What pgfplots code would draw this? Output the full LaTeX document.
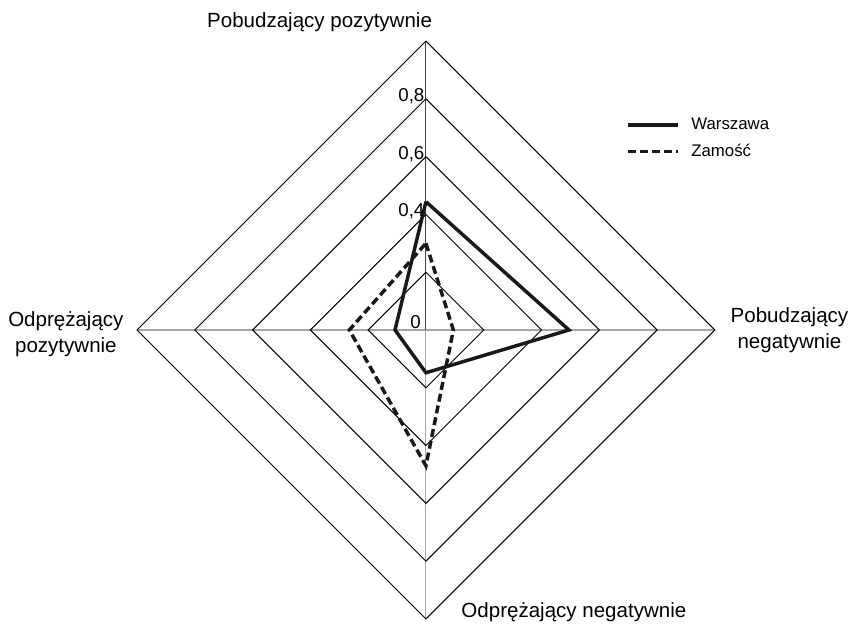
\documentclass[border=0pt]{standalone}
\usepackage{pgfplots}
\pgfplotsset{compat=1.18}
\usepackage{fontspec}
\setmainfont{Liberation Sans}
\begin{document}
\begin{tikzpicture}
\begin{axis}[
  x=216.75pt, y=216.75pt,
  xmin=-1, xmax=1, ymin=-1, ymax=1,
  axis lines=none, clip=false,
  legend style={draw=none, fill=none, inner sep=0pt, outer sep=0pt,
    at={(axis cs:0.692,0.663)}, anchor=west,
    font=\fontsize{12.6}{15}\selectfont, row sep=5.5pt,
    nodes={inner xsep=8.5pt, inner ysep=2pt}},
  legend cell align=left,
  legend image code/.code={\draw[#1] (0pt,0pt) -- (38pt,0pt);},
]
% spokes
\addplot[gray!70, line width=0.8pt, forget plot] coordinates {(0,0) (0,-1)};
\addplot[gray!70, line width=0.8pt, forget plot] coordinates {(0,0) (1,0)};
\addplot[gray!70, line width=0.8pt, forget plot] coordinates {(0,0) (-1,0)};
\addplot[black!75, line width=0.8pt, forget plot] coordinates {(0,0) (0,1)};
% grid diamonds
\addplot[black, line width=0.75pt, forget plot] coordinates {(0,0.2) (0.2,0) (0,-0.2) (-0.2,0) (0,0.2)};
\addplot[black, line width=0.75pt, forget plot] coordinates {(0,0.4) (0.4,0) (0,-0.4) (-0.4,0) (0,0.4)};
\addplot[black, line width=0.75pt, forget plot] coordinates {(0,0.6) (0.6,0) (0,-0.6) (-0.6,0) (0,0.6)};
\addplot[black, line width=0.75pt, forget plot] coordinates {(0,0.8) (0.8,0) (0,-0.8) (-0.8,0) (0,0.8)};
\addplot[black, line width=0.75pt, forget plot] coordinates {(0,1) (1,0) (0,-1) (-1,0) (0,1)};
% data
\addplot[black!90, line width=2.6pt, line join=miter] coordinates {(0,0.444) (0.495,0) (0,-0.148) (-0.107,0) (0,0.444)};
\addlegendentry{Warszawa}
\addplot[black!90, line width=2.6pt, dash pattern=on 6pt off 3pt, line join=miter] coordinates {(0,0.30) (0.095,0) (0,-0.47) (-0.265,0) (0,0.30)};
\addlegendentry{Zamość}
% tick labels
\node[anchor=east, font=\fontsize{14}{16}\selectfont, inner sep=1pt] at (axis cs:0,0.81) {0,8};
\node[anchor=east, font=\fontsize{14}{16}\selectfont, inner sep=1pt] at (axis cs:0,0.61) {0,6};
\node[anchor=east, font=\fontsize{14}{16}\selectfont, inner sep=1pt] at (axis cs:0,0.41) {0,4};
\node[anchor=east, font=\fontsize{14}{16}\selectfont, inner sep=1pt] at (axis cs:-0.012,0.028) {0};
% category labels
\node[font=\fontsize{15.4}{19.5}\selectfont] at (axis cs:-0.368,1.066) {Pobudzający pozytywnie};
\node[font=\fontsize{15.4}{19.5}\selectfont, align=center] at (axis cs:1.258,0) {Pobudzający\\negatywnie};
\node[font=\fontsize{15.4}{19.5}\selectfont] at (axis cs:0.512,-0.976) {Odprężający negatywnie};
\node[font=\fontsize{15.4}{19.5}\selectfont, align=center] at (axis cs:-1.246,-0.014) {Odprężający\\pozytywnie};
\coordinate (bl) at (axis cs:-1.474,-1.017);
\coordinate (tr) at (axis cs:1.471,1.142);
\end{axis}
\pgfresetboundingbox
\path (bl) rectangle (tr);
\end{tikzpicture}
\end{document}
